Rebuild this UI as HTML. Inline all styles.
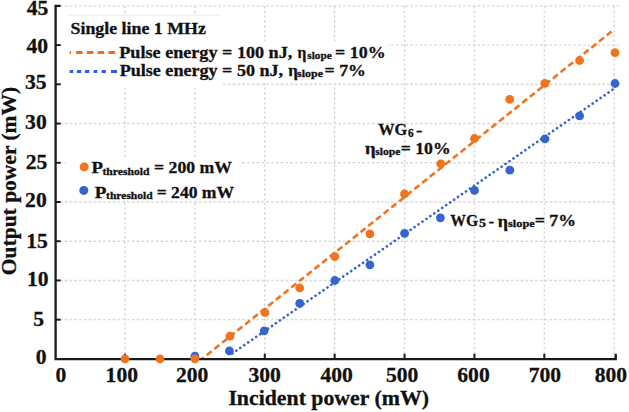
<!DOCTYPE html>
<html><head><meta charset="utf-8"><style>
html,body{margin:0;padding:0;background:#fff;}
body{width:629px;height:412px;overflow:hidden;}
svg{display:block;}
text{font-family:"Liberation Serif",serif;font-weight:bold;fill:#111;stroke:#111;stroke-width:0.3px;}
.tk{font-size:21.6px;}
.ax{font-size:21.8px;}
.ax2{font-size:21.5px;}
</style></head><body>
<svg width="629" height="412" viewBox="0 0 629 412">
<rect width="629" height="412" fill="#fff"/>
<line x1="124.99" y1="5.88" x2="124.99" y2="358.90" stroke="#D8D8D8" stroke-width="1.4" stroke-dasharray="2.6 2.2"/>
<line x1="194.88" y1="5.88" x2="194.88" y2="358.90" stroke="#D8D8D8" stroke-width="1.4" stroke-dasharray="2.6 2.2"/>
<line x1="264.77" y1="5.88" x2="264.77" y2="358.90" stroke="#D8D8D8" stroke-width="1.4" stroke-dasharray="2.6 2.2"/>
<line x1="334.66" y1="5.88" x2="334.66" y2="358.90" stroke="#D8D8D8" stroke-width="1.4" stroke-dasharray="2.6 2.2"/>
<line x1="404.55" y1="5.88" x2="404.55" y2="358.90" stroke="#D8D8D8" stroke-width="1.4" stroke-dasharray="2.6 2.2"/>
<line x1="474.44" y1="5.88" x2="474.44" y2="358.90" stroke="#D8D8D8" stroke-width="1.4" stroke-dasharray="2.6 2.2"/>
<line x1="544.33" y1="5.88" x2="544.33" y2="358.90" stroke="#D8D8D8" stroke-width="1.4" stroke-dasharray="2.6 2.2"/>
<line x1="614.22" y1="5.88" x2="614.22" y2="358.90" stroke="#D8D8D8" stroke-width="1.4" stroke-dasharray="2.6 2.2"/>
<line x1="55.10" y1="319.67" x2="616" y2="319.67" stroke="#D8D8D8" stroke-width="1.4" stroke-dasharray="2.6 2.2"/>
<line x1="55.10" y1="280.45" x2="616" y2="280.45" stroke="#D8D8D8" stroke-width="1.4" stroke-dasharray="2.6 2.2"/>
<line x1="55.10" y1="241.22" x2="616" y2="241.22" stroke="#D8D8D8" stroke-width="1.4" stroke-dasharray="2.6 2.2"/>
<line x1="55.10" y1="202.00" x2="616" y2="202.00" stroke="#D8D8D8" stroke-width="1.4" stroke-dasharray="2.6 2.2"/>
<line x1="55.10" y1="162.77" x2="616" y2="162.77" stroke="#D8D8D8" stroke-width="1.4" stroke-dasharray="2.6 2.2"/>
<line x1="55.10" y1="123.55" x2="616" y2="123.55" stroke="#D8D8D8" stroke-width="1.4" stroke-dasharray="2.6 2.2"/>
<line x1="55.10" y1="84.32" x2="616" y2="84.32" stroke="#D8D8D8" stroke-width="1.4" stroke-dasharray="2.6 2.2"/>
<line x1="55.10" y1="45.10" x2="619" y2="45.10" stroke="#D8D8D8" stroke-width="1.4" stroke-dasharray="2.6 2.2"/>
<line x1="55.10" y1="5.88" x2="619" y2="5.88" stroke="#D8D8D8" stroke-width="1.4" stroke-dasharray="2.6 2.2"/>
<rect x="62" y="14" width="159" height="73" fill="#fff"/>
<rect x="62" y="41.5" width="326" height="41.5" fill="#fff"/>
<rect x="66" y="157" width="175" height="43" fill="#fff"/>
<line x1="66" y1="15.2" x2="221" y2="15.2" stroke="#EDEDED" stroke-width="1"/>
<line x1="202.0" y1="358.9" x2="611.6" y2="31.5" stroke="#F0731F" stroke-width="2.6" stroke-dasharray="6.3 3.55" stroke-dashoffset="3.85"/>
<line x1="229.4" y1="355.5" x2="614.6" y2="88.3" stroke="#3464CC" stroke-width="2.7" stroke-dasharray="0.01 4.808" stroke-dashoffset="1.154" stroke-linecap="round"/>
<path d="M60.6 5.88 H55.6 V359.1 H615.72 V353.7" fill="none" stroke="#1a1a1a" stroke-width="2.3"/>
<line x1="55.6" y1="319.67" x2="60.6" y2="319.67" stroke="#1a1a1a" stroke-width="2"/>
<line x1="55.6" y1="280.45" x2="60.6" y2="280.45" stroke="#1a1a1a" stroke-width="2"/>
<line x1="55.6" y1="241.22" x2="60.6" y2="241.22" stroke="#1a1a1a" stroke-width="2"/>
<line x1="55.6" y1="202.00" x2="60.6" y2="202.00" stroke="#1a1a1a" stroke-width="2"/>
<line x1="55.6" y1="162.77" x2="60.6" y2="162.77" stroke="#1a1a1a" stroke-width="2"/>
<line x1="55.6" y1="123.55" x2="60.6" y2="123.55" stroke="#1a1a1a" stroke-width="2"/>
<line x1="55.6" y1="84.32" x2="60.6" y2="84.32" stroke="#1a1a1a" stroke-width="2"/>
<line x1="55.6" y1="45.10" x2="60.6" y2="45.10" stroke="#1a1a1a" stroke-width="2"/>
<line x1="124.99" y1="359" x2="124.99" y2="353.7" stroke="#1a1a1a" stroke-width="2"/>
<line x1="194.88" y1="359" x2="194.88" y2="353.7" stroke="#1a1a1a" stroke-width="2"/>
<line x1="264.77" y1="359" x2="264.77" y2="353.7" stroke="#1a1a1a" stroke-width="2"/>
<line x1="334.66" y1="359" x2="334.66" y2="353.7" stroke="#1a1a1a" stroke-width="2"/>
<line x1="404.55" y1="359" x2="404.55" y2="353.7" stroke="#1a1a1a" stroke-width="2"/>
<line x1="474.44" y1="359" x2="474.44" y2="353.7" stroke="#1a1a1a" stroke-width="2"/>
<line x1="544.33" y1="359" x2="544.33" y2="353.7" stroke="#1a1a1a" stroke-width="2"/>
<circle cx="194.9" cy="356.2" r="4.4" fill="#3464CC"/>
<circle cx="229.4" cy="350.9" r="4.4" fill="#3464CC"/>
<circle cx="264.2" cy="330.8" r="4.4" fill="#3464CC"/>
<circle cx="299.7" cy="303.4" r="4.4" fill="#3464CC"/>
<circle cx="334.8" cy="280.5" r="4.4" fill="#3464CC"/>
<circle cx="369.9" cy="264.8" r="4.4" fill="#3464CC"/>
<circle cx="404.6" cy="233.3" r="4.4" fill="#3464CC"/>
<circle cx="440.4" cy="217.8" r="4.4" fill="#3464CC"/>
<circle cx="474.5" cy="190.4" r="4.4" fill="#3464CC"/>
<circle cx="509.8" cy="170.2" r="4.4" fill="#3464CC"/>
<circle cx="545.0" cy="138.8" r="4.4" fill="#3464CC"/>
<circle cx="579.6" cy="115.9" r="4.4" fill="#3464CC"/>
<circle cx="615.0" cy="83.5" r="4.4" fill="#3464CC"/>
<circle cx="125.0" cy="358.8" r="4.4" fill="#F0731F"/>
<circle cx="160.0" cy="358.8" r="4.4" fill="#F0731F"/>
<circle cx="194.9" cy="358.8" r="4.4" fill="#F0731F"/>
<circle cx="230.0" cy="336.2" r="4.4" fill="#F0731F"/>
<circle cx="264.9" cy="312.5" r="4.4" fill="#F0731F"/>
<circle cx="299.7" cy="288.0" r="4.4" fill="#F0731F"/>
<circle cx="334.8" cy="256.6" r="4.4" fill="#F0731F"/>
<circle cx="369.9" cy="233.9" r="4.4" fill="#F0731F"/>
<circle cx="404.5" cy="193.9" r="4.4" fill="#F0731F"/>
<circle cx="440.8" cy="163.8" r="4.4" fill="#F0731F"/>
<circle cx="474.5" cy="138.5" r="4.4" fill="#F0731F"/>
<circle cx="509.7" cy="99.4" r="4.4" fill="#F0731F"/>
<circle cx="544.9" cy="83.4" r="4.4" fill="#F0731F"/>
<circle cx="579.6" cy="60.5" r="4.4" fill="#F0731F"/>
<circle cx="615.0" cy="52.7" r="4.4" fill="#F0731F"/>
<text x="37.45" y="15.40" text-anchor="middle" class="tk">45</text>
<text x="37.35" y="53.40" text-anchor="middle" class="tk">40</text>
<text x="35.75" y="89.00" text-anchor="middle" class="tk">35</text>
<text x="35.90" y="128.80" text-anchor="middle" class="tk">30</text>
<text x="36.60" y="169.30" text-anchor="middle" class="tk">25</text>
<text x="35.90" y="206.90" text-anchor="middle" class="tk">20</text>
<text x="37.10" y="247.50" text-anchor="middle" class="tk">15</text>
<text x="37.85" y="285.90" text-anchor="middle" class="tk">10</text>
<text x="38.55" y="326.20" text-anchor="middle" class="tk">5</text>
<text x="41.05" y="363.70" text-anchor="middle" class="tk">0</text>
<text x="60.9" y="382" text-anchor="middle" class="tk">0</text>
<text x="121.8" y="382" text-anchor="middle" class="tk">100</text>
<text x="192.2" y="382" text-anchor="middle" class="tk">200</text>
<text x="264.7" y="382" text-anchor="middle" class="tk">300</text>
<text x="336.6" y="382" text-anchor="middle" class="tk">400</text>
<text x="402.1" y="382" text-anchor="middle" class="tk">500</text>
<text x="473.5" y="382" text-anchor="middle" class="tk">600</text>
<text x="544.9" y="382" text-anchor="middle" class="tk">700</text>
<text x="610.9" y="382" text-anchor="middle" class="tk">800</text>
<text x="328.7" y="404.7" text-anchor="middle" class="ax">Incident power (mW)</text>
<text transform="translate(15.9,181) rotate(-90)" text-anchor="middle" class="ax2">Output power (mW)</text>
<text x="70.50" y="34.20" font-size="17.5" textLength="135.40" lengthAdjust="spacingAndGlyphs">Single line 1 MHz</text>
<line x1="69.6" y1="52.5" x2="115" y2="52.5" stroke="#F96A14" stroke-width="3" stroke-dasharray="1.5 5 6.5 4.3 6.5 4.3 6.5 4.3 6.5 4.3 6.5"/>
<line x1="69.6" y1="71.4" x2="117" y2="71.4" stroke="#2F62D0" stroke-width="3" stroke-dasharray="3.6 3.7 4.3 3.7 4.4 4.3 3.7 4.3 4.3 5.1 6"/>
<text x="119.30" y="57.80" font-size="17.3" textLength="173.00" lengthAdjust="spacingAndGlyphs">Pulse energy = 100 nJ,</text>
<text x="297.50" y="57.80" font-size="17.3" textLength="8.80" lengthAdjust="spacingAndGlyphs">η</text>
<text x="307.30" y="58.60" font-size="11.3" textLength="24.40" lengthAdjust="spacingAndGlyphs">slope</text>
<text x="335.10" y="57.80" font-size="17.3" textLength="50.60" lengthAdjust="spacingAndGlyphs">= 10%</text>
<text x="119.70" y="75.60" font-size="17.3" textLength="163.40" lengthAdjust="spacingAndGlyphs">Pulse energy = 50 nJ,</text>
<text x="288.30" y="75.60" font-size="17.3" textLength="9.60" lengthAdjust="spacingAndGlyphs">η</text>
<text x="297.10" y="77.00" font-size="11.3" textLength="26.00" lengthAdjust="spacingAndGlyphs">slope</text>
<text x="324.50" y="75.60" font-size="17.3" textLength="41.40" lengthAdjust="spacingAndGlyphs">= 7%</text>
<circle cx="84.2" cy="166.9" r="4.5" fill="#F0731F"/>
<circle cx="83.8" cy="190.4" r="4.5" fill="#3464CC"/>
<text x="91.50" y="173.10" font-size="17.2" textLength="11.40" lengthAdjust="spacingAndGlyphs">P</text>
<text x="102.50" y="174.60" font-size="11.2" textLength="47.00" lengthAdjust="spacingAndGlyphs">threshold</text>
<text x="154.10" y="173.10" font-size="17.2" textLength="78.00" lengthAdjust="spacingAndGlyphs">= 200 mW</text>
<text x="94.70" y="198.00" font-size="17.2" textLength="11.60" lengthAdjust="spacingAndGlyphs">P</text>
<text x="106.10" y="199.00" font-size="11.2" textLength="46.60" lengthAdjust="spacingAndGlyphs">threshold</text>
<text x="156.70" y="198.00" font-size="17.2" textLength="77.40" lengthAdjust="spacingAndGlyphs">= 240 mW</text>
<text x="378.30" y="135.20" font-size="17" textLength="29.00" lengthAdjust="spacingAndGlyphs">WG</text>
<text x="407.90" y="136.90" font-size="11.5" textLength="5.60" lengthAdjust="spacingAndGlyphs">6</text>
<text x="416.10" y="136.40" font-size="17" textLength="6.40" lengthAdjust="spacingAndGlyphs">-</text>
<text x="365.10" y="153.90" font-size="17" textLength="10.60" lengthAdjust="spacingAndGlyphs">η</text>
<text x="375.30" y="154.60" font-size="11.3" textLength="25.20" lengthAdjust="spacingAndGlyphs">slope</text>
<text x="400.70" y="153.90" font-size="17" textLength="50.00" lengthAdjust="spacingAndGlyphs">= 10%</text>
<text x="450.30" y="226.00" font-size="17" textLength="27.80" lengthAdjust="spacingAndGlyphs">WG</text>
<text x="479.10" y="227.30" font-size="11.5" textLength="7.00" lengthAdjust="spacingAndGlyphs">5</text>
<text x="488.50" y="227.00" font-size="17" textLength="5.60" lengthAdjust="spacingAndGlyphs">-</text>
<text x="497.70" y="226.60" font-size="17" textLength="10.20" lengthAdjust="spacingAndGlyphs">η</text>
<text x="508.10" y="227.00" font-size="11.3" textLength="26.60" lengthAdjust="spacingAndGlyphs">slope</text>
<text x="534.70" y="226.20" font-size="17" textLength="41.40" lengthAdjust="spacingAndGlyphs">= 7%</text>
</svg>
</body></html>
